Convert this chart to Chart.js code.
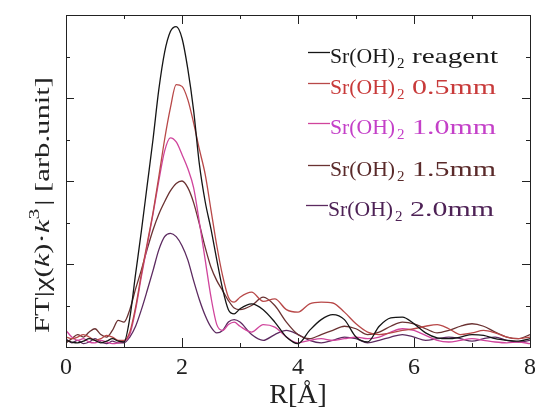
<!DOCTYPE html>
<html>
<head>
<meta charset="utf-8">
<script src="https://cdn.jsdelivr.net/npm/chart.js@4.4.1/dist/chart.umd.min.js"></script>
<style>
html,body{margin:0;padding:0;background:#fff;}
#wrap{width:535px;height:412px;position:relative;}
#probe{position:absolute;left:-9999px;top:0;font-family:"Liberation Serif";}
</style>
</head>
<body>
<div id="probe">Sr(OH) <i>k</i> 0123</div>
<div id="wrap"><canvas id="c" width="535" height="412"></canvas></div>
<script>
// R values [Å]
const rValues = [0,0.1,0.2,0.3,0.4,0.5,0.6,0.7,0.8,0.9,1.0,1.1,1.2,1.3,1.4,1.5,1.6,1.7,1.8,1.9,2.0,2.1,2.2,2.3,2.4,2.5,2.6,2.7,2.8,2.9,3.0,
  3.2,3.4,3.6,3.8,4.0,4.2,4.4,4.6,4.8,5.0,5.2,5.4,5.6,5.8,6.0,6.2,6.4,6.6,6.8,7.0,7.2,7.4,7.6,7.8,8.0];

const reagent = [0.08,0.06,0.05,0.07,0.10,0.08,0.05,0.07,0.10,0.07,0.06,0.35,0.88,1.40,1.95,2.50,3.10,3.55,3.80,3.86,3.72,3.35,2.85,2.20,1.75,1.42,1.05,0.70,0.45,0.40,0.46,
  0.52,0.45,0.30,0.12,0.04,0.20,0.33,0.39,0.33,0.12,0.06,0.25,0.35,0.36,0.28,0.17,0.11,0.10,0.12,0.15,0.14,0.10,0.08,0.07,0.10];

const mm05 = [0.12,0.10,0.12,0.15,0.12,0.08,0.10,0.14,0.12,0.08,0.08,0.18,0.48,0.88,1.25,1.62,2.05,2.50,2.88,3.16,3.14,2.98,2.70,2.38,2.08,1.65,1.22,0.86,0.60,0.54,0.60,
  0.66,0.55,0.58,0.45,0.42,0.52,0.54,0.53,0.42,0.28,0.18,0.15,0.17,0.20,0.22,0.25,0.27,0.22,0.15,0.17,0.20,0.17,0.12,0.10,0.12];

const mm10 = [0.20,0.12,0.08,0.10,0.06,0.05,0.08,0.06,0.04,0.05,0.07,0.15,0.45,0.85,1.22,1.60,2.00,2.36,2.52,2.47,2.32,2.15,1.92,1.50,1.05,0.60,0.27,0.20,0.27,0.30,0.25,
  0.18,0.27,0.24,0.12,0.05,0.08,0.10,0.08,0.10,0.12,0.10,0.12,0.18,0.22,0.20,0.14,0.08,0.06,0.08,0.10,0.08,0.06,0.05,0.06,0.04];

const mm15 = [0.05,0.10,0.15,0.12,0.18,0.22,0.15,0.12,0.20,0.32,0.30,0.45,0.70,0.93,1.18,1.41,1.60,1.75,1.88,1.97,2.00,1.92,1.74,1.48,1.20,0.96,0.80,0.68,0.56,0.47,0.45,
  0.50,0.60,0.50,0.30,0.15,0.10,0.15,0.20,0.25,0.22,0.15,0.18,0.25,0.30,0.28,0.22,0.17,0.20,0.25,0.28,0.25,0.18,0.12,0.10,0.15];

const mm20 = [0.10,0.05,0.08,0.04,0.06,0.10,0.06,0.04,0.07,0.05,0.05,0.12,0.25,0.45,0.68,0.92,1.17,1.33,1.37,1.33,1.22,1.05,0.80,0.57,0.38,0.24,0.17,0.20,0.30,0.33,0.30,
  0.15,0.08,0.15,0.20,0.15,0.08,0.05,0.08,0.12,0.10,0.05,0.08,0.12,0.15,0.12,0.08,0.10,0.12,0.10,0.07,0.10,0.12,0.08,0.06,0.08];

const seriesSuffixes = ['reagent','0.5mm','1.0mm','1.5mm','2.0mm'];
const seriesValues = [reagent, mm05, mm10, mm15, mm20];
const lineColors = ['#151515','#b84848','#d0449c','#6a3232','#5c2a60'];
const textColors = ['#1a1a1a','#c83a3a','#c440c8','#5a2a2a','#4e2256'];

const xTicks = [0,2,4,6,8];

const SERIF = '"Liberation Serif", "Times New Roman", Times, serif';

function drawScaled(ctx, text, x, y, targetW) {
  const w = ctx.measureText(text).width;
  const s = targetW ? targetW / w : 1;
  ctx.save();
  ctx.translate(x, y);
  ctx.scale(s, 1);
  ctx.fillText(text, 0, 0);
  ctx.restore();
  return w * s;
}

const decor = {
  id: 'decor',
  afterDatasetsDraw(chart) {
    const ctx = chart.ctx;
    const a = chart.chartArea;
    const xs = chart.scales.x, ys = chart.scales.y;
    ctx.save();
    ctx.strokeStyle = '#222';
    ctx.lineWidth = 1;
    ctx.strokeRect(Math.round(a.left)+0.5, Math.round(a.top)+0.5, Math.round(a.right-a.left), Math.round(a.bottom-a.top));
    for (let v = 0; v <= 8; v += 1) {
      const px = Math.round(xs.getPixelForValue(v)) + 0.5;
      const len = (v % 2 === 0) ? 9 : 4;
      ctx.beginPath();
      ctx.moveTo(px, a.bottom); ctx.lineTo(px, a.bottom - len);
      ctx.moveTo(px, a.top); ctx.lineTo(px, a.top + len);
      ctx.stroke();
    }
    for (let v = 0; v <= 4; v += 0.5) {
      const py = Math.round(ys.getPixelForValue(v)) + 0.5;
      const len = (v % 1 === 0) ? 8 : 4;
      ctx.beginPath();
      ctx.moveTo(a.left, py); ctx.lineTo(a.left + len, py);
      ctx.moveTo(a.right, py); ctx.lineTo(a.right - len, py);
      ctx.stroke();
    }
    ctx.restore();

    // legend
    const baselines = [63, 94, 134, 176, 216];
    ctx.save();
    ctx.textBaseline = 'alphabetic';
    seriesSuffixes.forEach((suf, i) => {
      const b = baselines[i];
      const x0 = i === 4 ? 306 : 308;
      ctx.strokeStyle = lineColors[i];
      ctx.lineWidth = 1.3;
      ctx.beginPath();
      ctx.moveTo(x0, b - 10.5); ctx.lineTo(x0 + 22, b - 10.5);
      ctx.stroke();
      ctx.fillStyle = textColors[i];
      ctx.font = '22px ' + SERIF;
      const tx = x0 + 22;
      const w1 = drawScaled(ctx, 'Sr(OH)', tx, b, 65);
      ctx.font = '15px ' + SERIF;
      ctx.fillText('2', tx + w1 + 2, b + 5);
      ctx.font = '22px ' + SERIF;
      drawScaled(ctx, suf, tx + w1 + 17, b, suf === 'reagent' ? 86 : 84);
    });
    ctx.restore();

    // y axis title
    ctx.save();
    ctx.translate(49, 205);
    ctx.rotate(-Math.PI / 2);
    ctx.fillStyle = '#222';
    ctx.textBaseline = 'alphabetic';
    const segs = [
      {t: 'FT|χ(', f: '20px ' + SERIF, dy: 0},
      {t: 'k', f: 'italic 20px ' + SERIF, dy: 0},
      {t: ')·', f: '20px ' + SERIF, dy: 0},
      {t: 'k', f: 'italic 20px ' + SERIF, dy: 0},
      {t: '3', f: '14px ' + SERIF, dy: -10},
      {t: '| [arb.unit]', f: '20px ' + SERIF, dy: 0}
    ];
    let total = 0;
    segs.forEach(s => { ctx.font = s.f; s.w = ctx.measureText(s.t).width + (s.t === '3' ? 2 : 0); total += s.w; });
    const sc = 256 / total;
    ctx.scale(sc, 1);
    let cx = -total / 2;
    segs.forEach(s => { ctx.font = s.f; ctx.fillText(s.t, cx, s.dy); cx += s.w; });
    ctx.restore();
  }
};

function build() {
  const datasets = seriesValues.map((vals, i) => ({
    label: 'Sr(OH)2 ' + seriesSuffixes[i],
    data: rValues.map((r, j) => ({x: r, y: vals[j]})),
    borderColor: lineColors[i],
    borderWidth: 1.3,
    pointRadius: 0,
    fill: false,
    cubicInterpolationMode: 'monotone'
  }));
  new Chart(document.getElementById('c'), {
    type: 'line',
    data: { datasets },
    options: {
      responsive: false,
      animation: false,
      events: [],
      layout: { padding: { left: 66, right: 0, top: 15, bottom: 0 } },
      plugins: { legend: { display: false }, tooltip: { enabled: false } },
      scales: {
        x: {
          type: 'linear', min: 0, max: 8,
          afterBuildTicks: (s) => { s.ticks = xTicks.map(v => ({value: v})); },
          afterFit: (s) => { s.height = 65; s.paddingRight = 5; },
          ticks: { font: { family: SERIF, size: 24 }, color: '#222', padding: 6, maxRotation: 0 },
          grid: { display: false, drawTicks: false, tickLength: 0 },
          border: { display: false },
          title: { display: true, text: 'R[Å]', font: { family: SERIF, size: 28 }, color: '#222', padding: { top: 0, bottom: 0 } }
        },
        y: { display: false, min: 0, max: 4 }
      }
    },
    plugins: [decor]
  });
}

const loads = [
  document.fonts.load('22px "Liberation Serif"'),
  document.fonts.load('italic 20px "Liberation Serif"')
];
Promise.all(loads).then(build, build);
</script>
</body>
</html>
